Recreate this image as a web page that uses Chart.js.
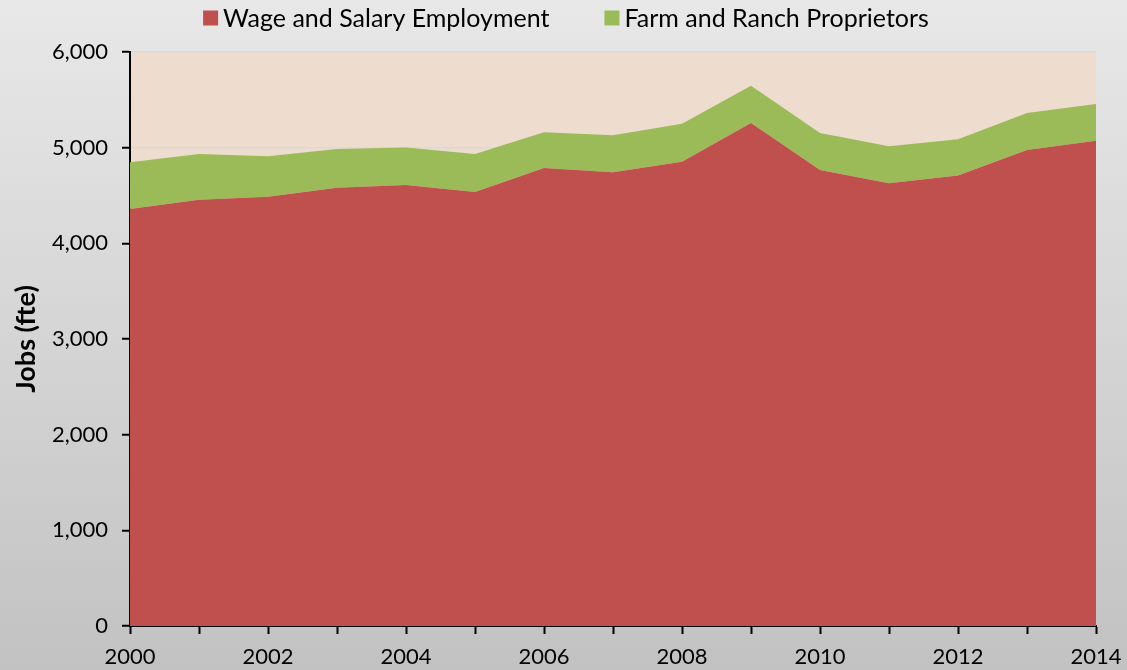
<!DOCTYPE html>
<html>
<head>
<meta charset="utf-8">
<script src="https://cdn.jsdelivr.net/npm/chart.js@4"></script>
<style>
  html, body { margin: 0; padding: 0; }
  #wrap { width: 1127px; height: 670px; }
</style>
</head>
<body>
<div id="wrap"><canvas id="chart" width="1127" height="670"></canvas></div>
<script>
// Chart data.
const years = ['2000', '2001', '2002', '2003', '2004', '2005', '2006', '2007',
  '2008', '2009', '2010', '2011', '2012', '2013', '2014'];
const wageSalary = [4360, 4456, 4487, 4582, 4610, 4536, 4787, 4743, 4854, 5258, 4766, 4627, 4708, 4975, 5073];
const farmRanch = [487, 478, 422, 404, 392, 398, 373, 386, 397, 390, 387, 387, 379, 387, 383];
const yTicks = [0, 1000, 2000, 3000, 4000, 5000, 6000];

Chart.defaults.font.family = 'Lato, "Open Sans", sans-serif';
Chart.defaults.color = '#000';

const ctx = document.getElementById('chart').getContext('2d');
new Chart(ctx, {
  type: 'line',
  data: {
    labels: years,
    datasets: [
      {
        label: 'Wage and Salary Employment',
        data: wageSalary,
        backgroundColor: '#c0504d',
        borderColor: '#c0504d',
        borderWidth: 0,
        pointRadius: 0,
        fill: 'origin',
      },
      {
        label: 'Farm and Ranch Proprietors',
        data: farmRanch,
        backgroundColor: '#9bbb59',
        borderColor: '#9bbb59',
        borderWidth: 0,
        pointRadius: 0,
        fill: '-1',
      },
    ],
  },
  options: {
    responsive: false,
    animation: false,
    layout: {
      padding: {left: 6, right: 31, top: 52, bottom: 0},
    },
    plugins: {
      // Legend is drawn by the plugin below to match the original spacing.
      legend: {display: false},
      tooltip: {enabled: false},
      topLegend: {centerX: 566, y: 18, gap: 55},
    },
    scales: {
      x: {
        stacked: true,
        offset: false,
        afterFit: (scale) => {
          scale.height = 44;
          scale.paddingLeft = 0;
          scale.paddingRight = 0;
        },
        grid: {
          display: true,
          drawOnChartArea: false,
          tickLength: 8,
          tickColor: '#000',
          tickWidth: 2,
        },
        border: {color: '#000', width: 2},
        ticks: {
          autoSkip: false,
          maxRotation: 0,
          padding: 10,
          font: {size: 22},
          callback: function (value, index) {
            const y = years[index];
            return Number(y) % 2 === 0 ? y : '';
          },
        },
      },
      y: {
        stacked: true,
        min: 0,
        max: 6000,
        afterFit: (scale) => { scale.width = 124; },
        afterBuildTicks: (scale) => { scale.ticks = yTicks.map(v => ({value: v})); },
        grid: {
          color: '#d9d9d9',
          lineWidth: 1.5,
          tickLength: 8,
          tickColor: '#000',
          tickWidth: 2,
        },
        border: {color: '#000', width: 2},
        ticks: {
          padding: 14,
          font: {size: 22},
          callback: (v) => v.toLocaleString('en-US'),
        },
        title: {
          display: true,
          text: 'Jobs (fte)',
          font: {size: 27, weight: 'bold'},
          padding: {top: 4, bottom: 0},
        },
      },
    },
  },
  plugins: [
    {
      id: 'backgrounds',
      beforeDraw: (chart) => {
        const {ctx, chartArea} = chart;
        ctx.save();
        const g = ctx.createLinearGradient(0, 0, 0, chart.height);
        g.addColorStop(0, '#e8e8e8');
        g.addColorStop(1, '#c2c2c2');
        ctx.fillStyle = g;
        ctx.fillRect(0, 0, chart.width, chart.height);
        ctx.fillStyle = '#eedccf';
        ctx.fillRect(chartArea.left, chartArea.top, chartArea.right - chartArea.left, chartArea.bottom - chartArea.top);
        ctx.restore();
      },
    },
    {
      id: 'topLegend',
      afterDraw: (chart, args, opts) => {
        const {ctx} = chart;
        const box = 15, textGap = 5;
        ctx.save();
        ctx.font = '25px Lato, "Open Sans", sans-serif';
        ctx.textBaseline = 'middle';
        const items = chart.data.datasets.map(ds => ({
          text: ds.label,
          color: ds.backgroundColor,
          w: box + textGap + ctx.measureText(ds.label).width,
        }));
        const total = items.reduce((s, it) => s + it.w, 0) + opts.gap * (items.length - 1);
        let x = opts.centerX - total / 2;
        items.forEach(it => {
          ctx.fillStyle = it.color;
          ctx.fillRect(x, opts.y - box / 2, box, box);
          ctx.fillStyle = '#000';
          ctx.fillText(it.text, x + box + textGap, opts.y + 1);
          x += it.w + opts.gap;
        });
        ctx.restore();
      },
    },
  ],
});
</script>
</body>
</html>
